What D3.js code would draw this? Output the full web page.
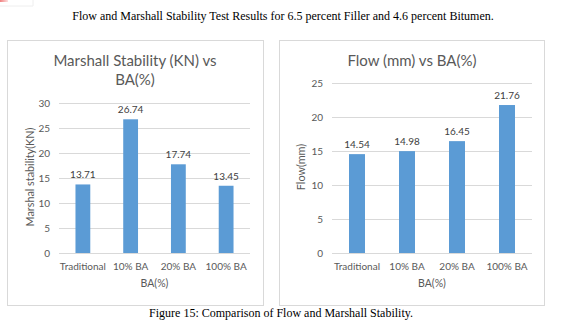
<!DOCTYPE html>
<html>
<head>
<meta charset="utf-8">
<script src="https://cdn.jsdelivr.net/npm/d3@7"></script>
<style>
  body { margin: 0; background: #fff; }
  svg { display: block; }
</style>
</head>
<body>
<svg id="chart" width="563" height="327"></svg>
<script>
// data
const categories = ["Traditional", "10% BA", "20% BA", "100% BA"];
const stabilityValues = [13.71, 26.74, 17.74, 13.45];
const flowValues = [14.54, 14.98, 16.45, 21.76];
const stabilityTicks = [0, 5, 10, 15, 20, 25, 30];
const flowTicks = [0, 5, 10, 15, 20, 25];

const svg = d3.select("#chart");
const FONT = "Lato, 'Open Sans', sans-serif";

// tiny pink mark in the top-left corner of the page scan
const grad = svg.append("defs").append("linearGradient").attr("id", "pink");
grad.append("stop").attr("offset", "0").attr("stop-color", "#f08080");
grad.append("stop").attr("offset", "1").attr("stop-color", "#fde0e0");
svg.append("rect").attr("x", 0).attr("y", 0).attr("width", 8).attr("height", 2).attr("fill", "url(#pink)");
svg.append("line").attr("x1", 0).attr("y1", 6).attr("x2", 33).attr("y2", 6).attr("stroke", "#eeeeee");
svg.append("line").attr("x1", 33).attr("y1", 0).attr("x2", 33).attr("y2", 6).attr("stroke", "#eeeeee");

svg.append("text")
    .attr("x", 283).attr("y", 20)
    .attr("text-anchor", "middle")
    .attr("font-family", "'Liberation Serif', serif")
    .attr("font-size", 12)
    .attr("fill", "#000")
    .text("Flow and Marshall Stability Test Results for 6.5 percent Filler and 4.6 percent Bitumen.");

svg.append("text")
    .attr("x", 281).attr("y", 317)
    .attr("text-anchor", "middle")
    .attr("font-family", "'Liberation Serif', serif")
    .attr("font-size", 12)
    .attr("fill", "#000")
    .text("Figure 15: Comparison of Flow and Marshall Stability.");

function drawPanel(opts) {
    const g = svg.append("g");
    g.append("rect")
        .attr("x", opts.box[0] + 0.5).attr("y", opts.box[1] + 0.5)
        .attr("width", opts.box[2] - opts.box[0]).attr("height", opts.box[3] - opts.box[1])
        .attr("fill", "#fff").attr("stroke", "#d9d9d9");

    const x = d3.scaleBand().domain(categories).range(opts.xRange).paddingInner(opts.pad).paddingOuter(opts.pad / 2);
    const y = d3.scaleLinear().domain([0, d3.max(opts.ticks)]).range(opts.yRange);

    // gridlines
    g.selectAll(".grid").data(opts.ticks).join("line")
        .attr("x1", opts.xRange[0]).attr("x2", opts.xRange[1])
        .attr("y1", d => Math.round(y(d)) + 0.5).attr("y2", d => Math.round(y(d)) + 0.5)
        .attr("stroke", "#d9d9d9");

    // tick labels
    g.selectAll(".ytick").data(opts.ticks).join("text")
        .attr("x", opts.xRange[0] - 9).attr("y", d => y(d))
        .attr("dy", "0.35em")
        .attr("text-anchor", "end")
        .attr("font-family", FONT).attr("font-size", 10)
        .attr("fill", "#595959")
        .text(d => d);

    // bars
    g.selectAll(".bar").data(opts.values).join("rect")
        .attr("x", (d, i) => x(categories[i]))
        .attr("y", d => y(d))
        .attr("width", x.bandwidth())
        .attr("height", d => y(0) - y(d))
        .attr("fill", "#5b9bd5");

    // data labels
    g.selectAll(".lbl").data(opts.values).join("text")
        .attr("x", (d, i) => x(categories[i]) + x.bandwidth() / 2)
        .attr("y", d => y(d) - 6)
        .attr("text-anchor", "middle")
        .attr("font-family", FONT).attr("font-size", 10)
        .attr("fill", "#404040")
        .text(d => d.toFixed(2));

    // category labels
    g.selectAll(".cat").data(categories).join("text")
        .attr("x", d => x(d) + x.bandwidth() / 2)
        .attr("y", 270)
        .attr("text-anchor", "middle")
        .attr("font-family", FONT).attr("font-size", 10)
        .attr("fill", "#595959")
        .text(d => d);

    // x title
    g.append("text")
        .attr("x", (opts.xRange[0] + opts.xRange[1]) / 2).attr("y", 287)
        .attr("text-anchor", "middle")
        .attr("font-family", FONT).attr("font-size", 10.5)
        .attr("fill", "#595959")
        .text("BA(%)");

    // y title
    g.append("text")
        .attr("transform", `translate(${opts.yTitleX},${opts.yTitleY}) rotate(-90)`)
        .attr("text-anchor", "middle")
        .attr("dy", "0.35em")
        .attr("font-family", FONT).attr("font-size", 10.8)
        .attr("fill", "#595959")
        .text(opts.yTitle);

    // chart title
    opts.title.forEach((line, i) => {
        g.append("text")
            .attr("x", opts.titleX).attr("y", 66 + i * 19)
            .attr("text-anchor", "middle")
            .attr("font-family", FONT).attr("font-size", 15)
            .attr("fill", "#595959")
            .text(line);
    });
}

drawPanel({
    box: [7, 40, 263, 305],
    xRange: [59, 250],
    yRange: [253, 103],
    pad: 0.69,
    values: stabilityValues,
    ticks: stabilityTicks,
    title: ["Marshall Stability (KN) vs", "BA(%)"],
    titleX: 135,
    yTitle: "Marshal stability(KN)",
    yTitleX: 30,
    yTitleY: 177
});

drawPanel({
    box: [279, 40, 544, 305],
    xRange: [332, 532],
    yRange: [253, 83],
    pad: 0.68,
    values: flowValues,
    ticks: flowTicks,
    title: ["Flow (mm) vs BA(%)"],
    titleX: 412,
    yTitle: "Flow(mm)",
    yTitleX: 301,
    yTitleY: 167
});
</script>
</body>
</html>
